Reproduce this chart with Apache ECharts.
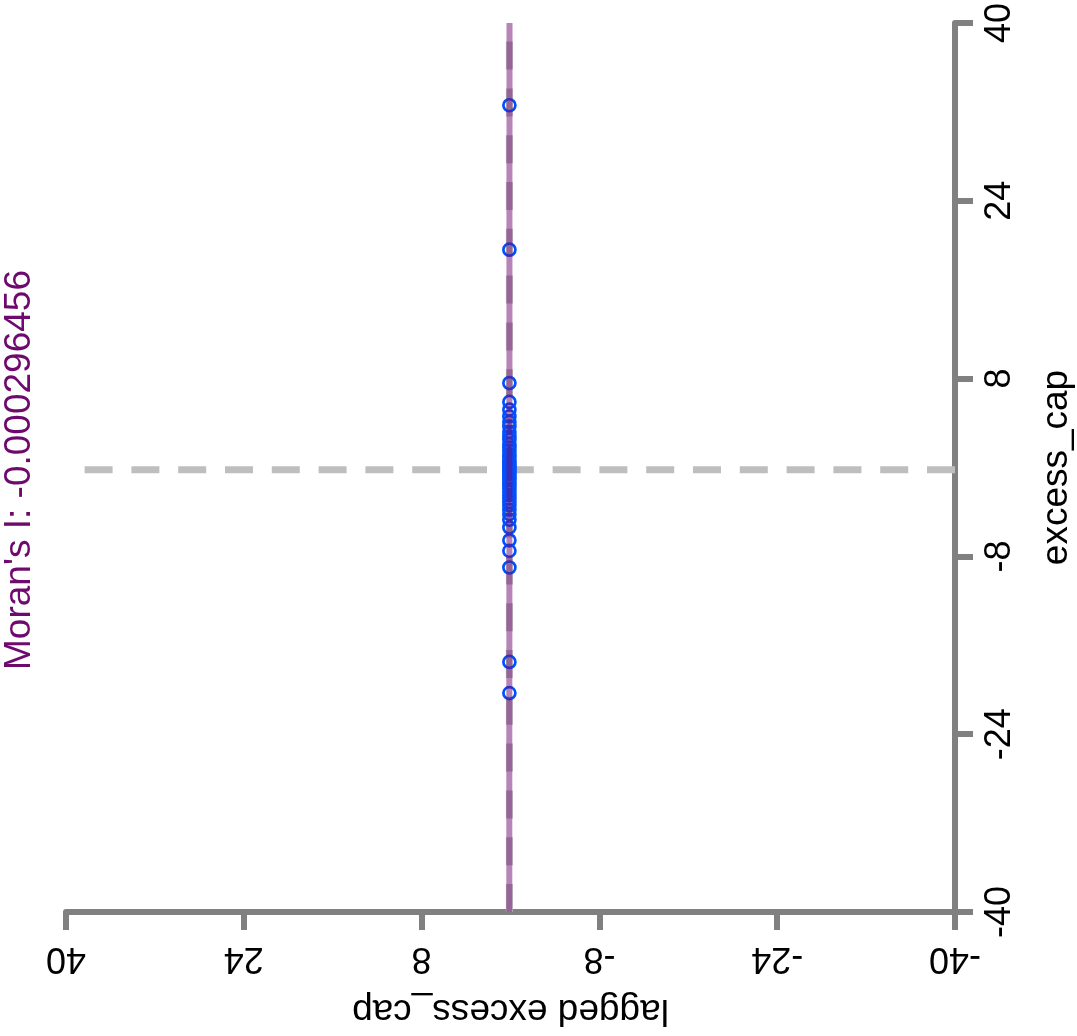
<!DOCTYPE html>
<html>
<head>
<meta charset="utf-8">
<script src="https://cdn.jsdelivr.net/npm/echarts@6/dist/echarts.min.js"></script>
<style>
html,body{margin:0;padding:0;background:#fff;}
#chart{width:1077px;height:1036px;}
</style>
</head>
<body>
<div id="chart"></div>
<script>
// ---- data ----
var excessCap = [32.6, 19.6, 7.6, 5.9, 5.2, 4.6, 4.1, 3.7, 3.2, 2.8, 2.5, 2.1, 1.8, 1.5, 1.2, 0.9, 0.6, 0.4, 0.2, 0.0,
                 -0.2, -0.4, -0.6, -0.9, -1.1, -1.4, -1.6, -1.9, -2.2, -2.5, -2.8, -3.1, -3.4, -3.8, -4.2, -4.7,
                 -5.4, -6.55, -7.5, -9.0, -17.5, -20.3];
var laggedExcessCap = [0.1, 0.1, 0.1, 0.1, 0.1, 0.1, 0.1, 0.1, 0.1, 0.1, 0.1, 0.1, 0.1, 0.1, 0.1, 0.1, 0.1, 0.1, 0.1, 0.1,
                       0.1, 0.1, 0.1, 0.1, 0.1, 0.1, 0.1, 0.1, 0.1, 0.1, 0.1, 0.1, 0.1, 0.1, 0.1, 0.1,
                       0.1, 0.1, 0.1, 0.1, 0.1, 0.1];
var regExcess = [-40, 40];
var regLagged = [0.11, 0.09];
var meanExcess = -0.2;
var meanLagged = 0.1;
var axisMin = -40, axisMax = 40, axisStep = 16;
var titleText = "Moran's I: -0.000296456";
var xName = "lagged excess_cap";
var yName = "excess_cap";

var pts = excessCap.map(function (v, i) { return [laggedExcessCap[i], v]; });
var reg = regExcess.map(function (v, i) { return [regLagged[i], v]; });
var hLine = [[axisMin, meanExcess], [axisMax, meanExcess]];
var vLine = [[meanLagged, axisMin], [meanLagged, axisMax]];

var FONT = "'Liberation Sans', Arial, sans-serif";
var axisGray = '#808080';

var chart = echarts.init(document.getElementById('chart'), null, {renderer: 'canvas'});
chart.setOption({
  animation: false,
  backgroundColor: '#ffffff',
  grid: {left: 66, right: 122, top: 23, bottom: 124, containLabel: false, outerBoundsMode: 'none'},
  xAxis: {
    type: 'value', min: axisMin, max: axisMax, interval: axisStep, inverse: true,
    position: 'bottom',
    name: xName, nameLocation: 'middle', nameRotate: 180, nameGap: 80,
    nameTextStyle: {fontFamily: FONT, fontSize: 37, color: '#000'},
    axisLine: {show: true, onZero: false, lineStyle: {color: axisGray, width: 6}},
    axisTick: {show: true, length: 18, lineStyle: {color: axisGray, width: 6}},
    axisLabel: {rotate: 180, margin: 28, fontFamily: FONT, fontSize: 36, color: '#000'},
    splitLine: {show: false}
  },
  yAxis: {
    type: 'value', min: axisMin, max: axisMax, interval: axisStep,
    position: 'right',
    name: yName, nameLocation: 'middle', nameRotate: 90, nameGap: 83,
    nameTextStyle: {fontFamily: FONT, fontSize: 37, color: '#000'},
    axisLine: {show: true, onZero: false, lineStyle: {color: axisGray, width: 6}},
    axisTick: {show: true, length: 18, lineStyle: {color: axisGray, width: 6}},
    axisLabel: {rotate: 90, margin: 27, fontFamily: FONT, fontSize: 36, color: '#000'},
    splitLine: {show: false}
  },
  graphic: [{
    type: 'text',
    x: 20, y: 470, rotation: Math.PI / 2,
    style: {text: titleText, fontFamily: FONT, fontSize: 37, fill: '#6e0a6e',
            align: 'center', verticalAlign: 'middle'}
  }],
  series: [
    {
      type: 'line', data: hLine, showSymbol: false, silent: true, z: 1,
      lineStyle: {color: '#bebebe', width: 7, type: [28, 18.8]}
    },
    {
      type: 'line', data: vLine, showSymbol: false, silent: true, z: 1,
      lineStyle: {color: '#bebebe', width: 7, type: [28, 18.8]}
    },
    {
      type: 'scatter', data: pts, symbol: 'circle', symbolSize: 12, z: 2,
      itemStyle: {color: 'rgba(0,0,0,0)', borderColor: '#0050ff', borderWidth: 2.7, opacity: 1}
    },
    {
      type: 'line', data: reg, showSymbol: false, silent: true, z: 3,
      lineStyle: {color: 'rgba(111,9,111,0.5)', width: 6}
    }
  ]
});
</script>
</body>
</html>
